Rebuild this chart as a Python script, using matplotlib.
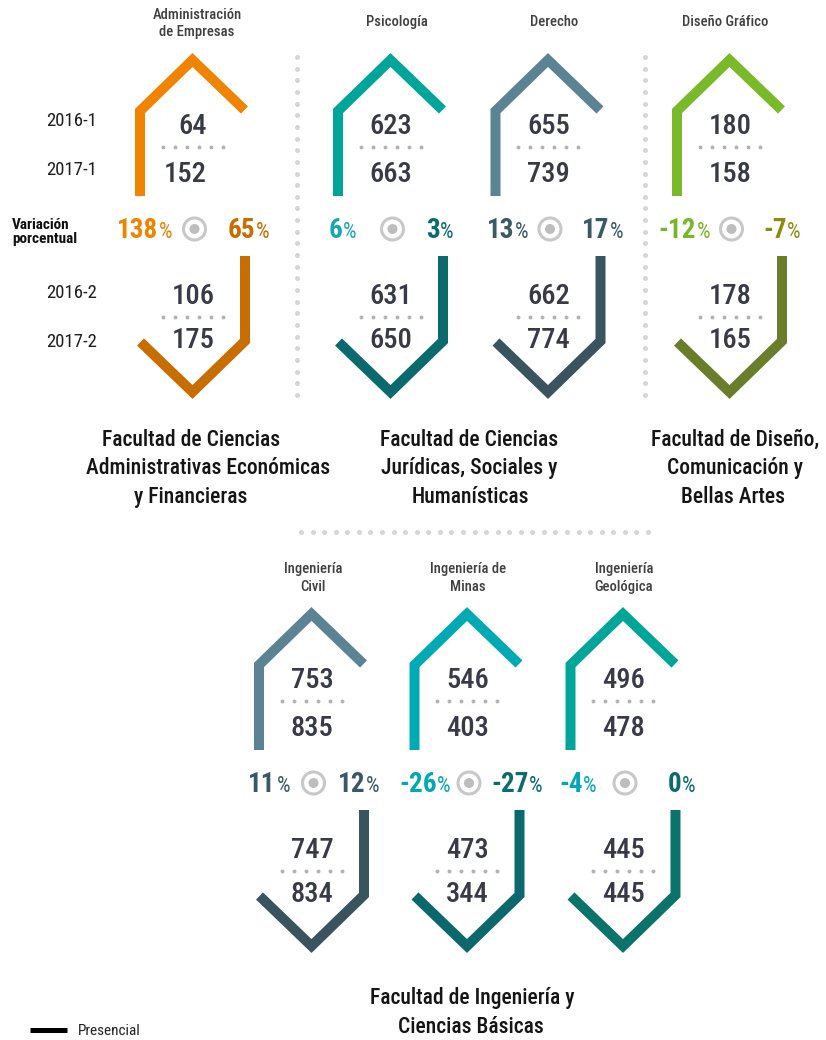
import matplotlib.pyplot as plt
import numpy as np
from matplotlib import font_manager
from matplotlib.patches import Circle

programs = ['Administración\nde Empresas', 'Psicología', 'Derecho', 'Diseño Gráfico',
            'Ingeniería\nCivil', 'Ingeniería de\nMinas', 'Ingeniería\nGeológica']
s2016_1 = [64, 623, 655, 180, 753, 546, 496]
s2017_1 = [152, 663, 739, 158, 835, 403, 478]
s2016_2 = [106, 631, 662, 178, 747, 473, 445]
s2017_2 = [175, 650, 774, 165, 834, 344, 445]
var_1 = [138, 6, 13, -12, 11, -26, -4]
var_2 = [65, 3, 17, -7, 12, -27, 0]
periods = ['2016-1', '2017-1', '2016-2', '2017-2']
faculties = [
    ['Facultad de Ciencias', 'Administrativas Económicas', 'y Financieras'],
    ['Facultad de Ciencias', 'Jurídicas, Sociales y', 'Humanísticas'],
    ['Facultad de Diseño,', 'Comunicación y', 'Bellas Artes'],
    ['Facultad de Ingeniería y', 'Ciencias Básicas'],
]

# layout (pixels)
cx_list = [192.5, 390.5, 548, 729.5, 311.5, 467, 623]
cy_list = [226, 226, 226, 226, 780, 780, 780]
num_dx_top = [-7.5, 0, 0, 0, 0, 0, 0]
left_pct = [-20.5, -33.5, -19, -19.5, -21.5, -16, -26]
right_pct = [35.5, 35.5, 34, 33.5, 26.5, 24, 45]
title_dx = [4.5, 6.5, 6, -4.5, 1.5, 1, 1]
fac_pos = [
    [(191, 440), (208, 468), (191, 497)],
    [(469, 440), (469, 468), (470, 497)],
    [(735, 440), (735, 468), (733, 497)],
    [(472, 998), (471, 1027)],
]

top_colors = ['#f08300', '#00a59a', '#5b8393', '#7ab929', '#5b8393', '#00aab5', '#00a59a']
bot_colors = ['#c86d00', '#0b6a6e', '#39545f', '#6a7d2a', '#39545f', '#0b696e', '#0b7369']
pct1_colors = ['#f08300', '#1aa7b3', '#3b5866', '#78b72a', '#3b5866', '#00a9b4', '#00a9b4']
pct2_colors = ['#c86d00', '#0b6b6e', '#3b5866', '#8c8c12', '#3b5866', '#0b6b6e', '#0b6b6e']
num_color = '#383a47'


def pick_font():
    names = {f.name for f in font_manager.fontManager.ttflist}
    for name in ['Roboto Condensed', 'Liberation Sans Narrow', 'Open Sans Condensed']:
        if name in names:
            return name
    return 'DejaVu Sans'


FONT = pick_font()

fig = plt.figure(figsize=(8.26, 10.4), dpi=100)
ax = fig.add_axes([0, 0, 1, 1])
ax.set_xlim(0, 826)
ax.set_ylim(1040, 0)
ax.axis('off')
renderer = fig.canvas.get_renderer()


def txt(x, y, s, size, color, weight='normal', ha='center', va='center', **kw):
    return ax.text(x, y, s, fontsize=size, color=color, fontweight=weight, ha=ha, va=va,
                   fontfamily=FONT, **kw)


def width(t):
    return t.get_window_extent(renderer).width


# separators
ys = np.arange(57, 406, 11.65)
ax.scatter([297] * len(ys), ys, s=13, color='#d6d6d6', lw=0)
ax.scatter([645] * len(ys), ys, s=13, color='#d6d6d6', lw=0)
xs = np.linspace(301, 648, 31)
ax.scatter(xs, [532] * len(xs), s=13, color='#d6d6d6', lw=0)

for i in range(len(programs)):
    cx, cy = cx_list[i], cy_list[i]
    ax.plot([cx - 52.5, cx - 52.5, cx, cx + 52], [cy - 30, cy - 115, cy - 166, cy - 116],
            color=top_colors[i], lw=7.2, solid_joinstyle='miter', solid_capstyle='butt')
    ax.plot([cx + 52.5, cx + 52.5, cx, cx - 52], [cy + 30, cy + 115, cy + 166, cy + 116],
            color=bot_colors[i], lw=7.2, solid_joinstyle='miter', solid_capstyle='butt')

    # numbers
    xt = cx + 22 + num_dx_top[i]
    txt(xt, cy - 92, str(s2016_1[i]), 20.5, num_color, weight='medium', ha='right', va='baseline')
    txt(xt, cy - 44.5, str(s2017_1[i]), 20.5, num_color, weight='medium', ha='right', va='baseline')
    txt(cx + 22, cy + 78.5, str(s2016_2[i]), 20.5, num_color, weight='medium', ha='right', va='baseline')
    txt(cx + 22, cy + 122.5, str(s2017_2[i]), 20.5, num_color, weight='medium', ha='right', va='baseline')
    dx = np.arange(-30, 31, 12)
    ax.scatter(cx + dx, [cy - 79] * len(dx), s=8, color='#b3b3b3', lw=0)
    ax.scatter(cx + dx, [cy + 91] * len(dx), s=8, color='#b3b3b3', lw=0)

    # circle marker
    ax.add_patch(Circle((cx + 2, cy + 3), 11, fill=False, ec='#c8c8c8', lw=2.2))
    ax.add_patch(Circle((cx + 2, cy + 3), 5, fc='#bdbdbd', ec='none'))

    # percentages
    by = cy + 12
    p = txt(cx + left_pct[i], by, '%', 15.5, pct1_colors[i], ha='right', va='baseline')
    txt(cx + left_pct[i] - width(p) - 0.5, by, str(var_1[i]), 19.5, pct1_colors[i],
        weight='bold', ha='right', va='baseline')
    n = txt(cx + right_pct[i], by, str(var_2[i]), 19.5, pct2_colors[i],
            weight='bold', ha='left', va='baseline')
    txt(cx + right_pct[i] + width(n) + 0.5, by, '%', 15.5, pct2_colors[i], ha='left', va='baseline')

    # program title
    ty = 22 if '\n' not in programs[i] else (23.5 if cy < 500 else 578)
    txt(cx + title_dx[i], ty, programs[i], 10.5, '#404040', weight='medium', linespacing=1.35)

# period labels
for lab, yy in zip(periods, [121, 170, 293, 342]):
    txt(72, yy, lab, 13.5, '#1e1e1e')
txt(12, 232, 'Variación\nporcentual', 11, '#111111', weight='bold', ha='left', linespacing=1.05)

# faculty labels
for lines, pos in zip(faculties, fac_pos):
    for line, (x, y) in zip(lines, pos):
        txt(x, y, line, 15.5, '#151515', weight='medium')

# legend
ax.plot([30, 67], [1030, 1030], color='black', lw=3.6, solid_capstyle='butt')
txt(78, 1031, 'Presencial', 11, '#222222', ha='left')

fig.savefig('out.png', dpi=100)
